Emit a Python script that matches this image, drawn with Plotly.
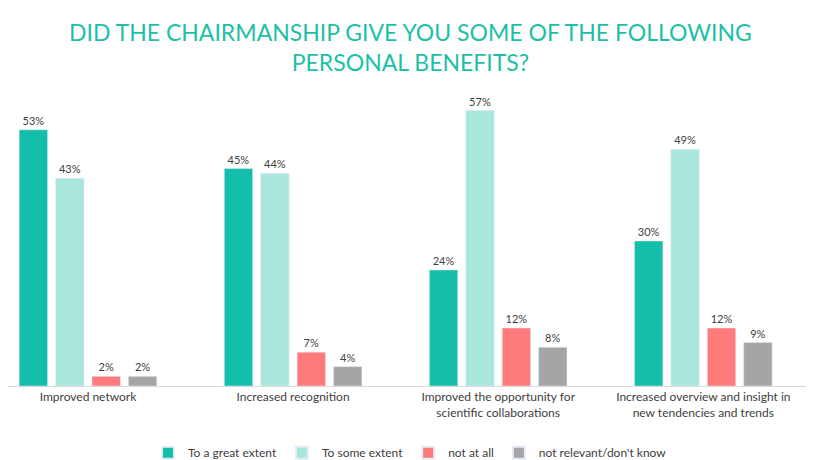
import plotly.graph_objects as go

categories = ["Improved network", "Increased recognition",
              "Improved the opportunity for<br>scientific collaborations",
              "Increased overview and insight in<br>new tendencies and trends"]
series_names = ["To a great extent", "To some extent", "not at all", "not relevant/don't know"]
values = [
    [53, 45, 24, 30],
    [43, 44, 57, 49],
    [2, 7, 12, 12],
    [2, 4, 8, 9],
]
colors = ["#13BFAA", "#A9E7DD", "#FF7B7B", "#A5A5A5"]
xpos = list(range(len(categories)))

fig = go.Figure()
for name, vals, c in zip(series_names, values, colors):
    fig.add_bar(x=xpos, y=vals, name=name, marker_color=c,
                text=[f"{v}%" for v in vals], textposition="outside",
                textfont=dict(size=11, color="#404040"), cliponaxis=False)

fig.add_annotation(text="DID THE CHAIRMANSHIP GIVE YOU SOME OF THE FOLLOWING<br>PERSONAL BENEFITS?",
                   xref="paper", yref="paper", x=0.5, y=1.17, xanchor="center", yanchor="middle",
                   showarrow=False, font=dict(size=23, color="#1DBFA6"))

fig.update_layout(
    width=814, height=460, barmode="group", bargap=0.29, bargroupgap=0.22,
    paper_bgcolor="white", plot_bgcolor="white",
    font=dict(family="Lato, sans-serif", color="#404040"),
    margin=dict(l=0, r=10, t=88, b=82),
    xaxis=dict(showline=True, linecolor="#D9D9D9", ticks="", range=[-0.39, 3.53],
               tickvals=xpos, ticktext=categories, tickfont=dict(size=12, color="#404040")),
    yaxis=dict(visible=False, range=[0, 60]),
    legend=dict(orientation="h", x=0.5, xanchor="center", y=-0.18, yanchor="top",
                font=dict(size=12), itemsizing="constant"),
)
fig.write_html("out.html")
